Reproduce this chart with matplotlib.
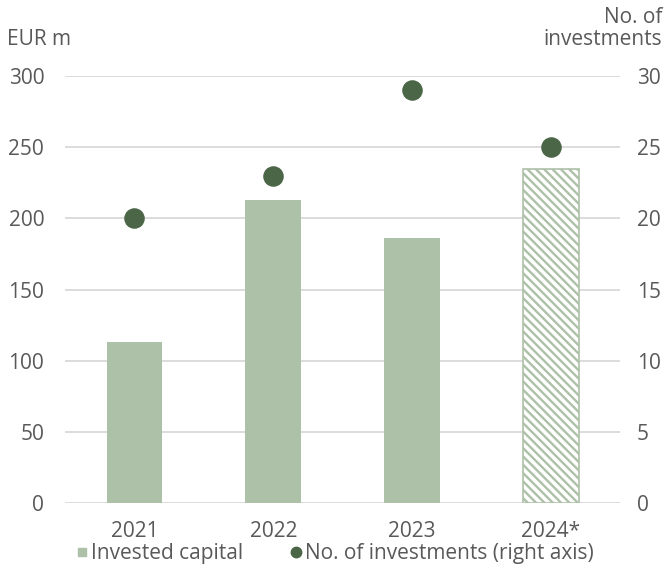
import matplotlib
matplotlib.use('Agg')
import matplotlib.pyplot as plt
from matplotlib.lines import Line2D
import numpy as np

years = ['2021', '2022', '2023', '2024*']
invested_capital = [113, 213, 186, 235]   # EUR m
n_investments = [20, 23, 29, 25]           # right axis
left_ticks = [0, 50, 100, 150, 200, 250, 300]
right_ticks = [0, 5, 10, 15, 20, 25, 30]

BAR = '#adc0a8'
DOT = '#4b6547'
GRID = '#d9d9d9'
TXT = '#595959'

plt.rcParams['font.family'] = ['Open Sans', 'DejaVu Sans']
plt.rcParams['hatch.linewidth'] = 1.7
plt.rcParams['hatch.color'] = BAR

fig = plt.figure(figsize=(6.67, 5.71), dpi=100)
ax = fig.add_axes([0.0975, 0.1186, 0.8325, 0.7483])
x = np.arange(len(years))

bars = ax.bar(x, invested_capital, width=0.4, color=BAR, zorder=2)
# last (estimated) year is hatched
last = bars[-1]
last.set_facecolor('white')
last.set_edgecolor(BAR)
last.set_hatch('\\\\\\\\')
last.set_linewidth(1.2)

ax.set_ylim(0, 300)
ax.set_xlim(-0.5, len(years) - 0.5)
ax.set_yticks(left_ticks)
ax.set_xticks(x)
ax.set_xticklabels(years)
ax.grid(axis='y', color=GRID, linewidth=1.3, zorder=0)
ax.set_axisbelow(True)
for s in ax.spines.values():
    s.set_visible(False)
ax.tick_params(axis='y', length=0, pad=15, labelsize=15, labelcolor=TXT)
ax.tick_params(axis='x', length=0, pad=13, labelsize=15, labelcolor=TXT)

ax2 = ax.twinx()
ax2.set_ylim(0, 30)
ax2.set_yticks(right_ticks)
ax2.scatter(x, n_investments, s=190, color=DOT, zorder=3)
for s in ax2.spines.values():
    s.set_visible(False)
ax2.tick_params(axis='y', length=0, pad=12, labelsize=15, labelcolor=TXT)

fig.text(0.010, 0.930, 'EUR m', fontsize=15, color=TXT, ha='left', va='center')
fig.text(0.993, 0.950, 'No. of\ninvestments', fontsize=15, color=TXT,
         ha='right', va='center', linespacing=1.05)

handles = [
    Line2D([], [], marker='s', linestyle='none', markersize=5.5,
           markerfacecolor=BAR, markeredgecolor=BAR),
    Line2D([], [], marker='o', linestyle='none', markersize=7.5,
           markerfacecolor=DOT, markeredgecolor=DOT),
]
fig.legend(handles, ['Invested capital', 'No. of investments (right axis)'],
           loc='center', bbox_to_anchor=(0.503, 0.031), ncol=2, frameon=False,
           fontsize=15, labelcolor=TXT, handlelength=0.45, handletextpad=0.2,
           columnspacing=2.3, borderpad=0)

fig.savefig('out.png', dpi=100)
